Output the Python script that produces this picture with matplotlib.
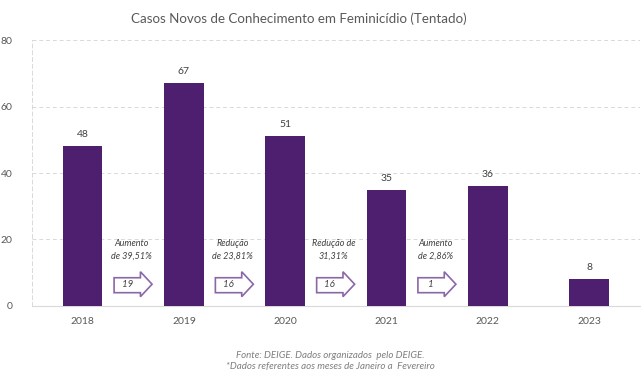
import matplotlib
matplotlib.use("Agg")
import matplotlib.pyplot as plt
from matplotlib.patches import Polygon

anos = ["2018", "2019", "2020", "2021", "2022", "2023"]
casos = [48, 67, 51, 35, 36, 8]
variacao_txt = ["Aumento\nde 39,51%", "Redução\nde 23,81%", "Redução de\n31,31%", "Aumento\nde 2,86%"]
variacao_num = ["19", "16", "16", "1"]

plt.rcParams['font.family'] = ['Lato', 'DejaVu Sans']

cor_barra = "#4d1f6e"
cor_seta = "#8a68a8"
cor_texto = "#404040"

fig = plt.figure(figsize=(6.41, 3.9), dpi=100)
ax = fig.add_axes([0.050, 0.2154, 0.948, 0.682])

x = list(range(len(anos)))
bars = ax.bar(x, casos, width=0.39, color=cor_barra, zorder=3)
for xi, v in zip(x, casos):
    ax.annotate(str(v), (xi, v), xytext=(0, 5), textcoords="offset points",
                ha="center", va="bottom", fontsize=7.5, color=cor_texto)

# setas entre barras
for i, (txt, num) in enumerate(zip(variacao_txt, variacao_num)):
    x0 = i + 0.31
    x1 = i + 0.57
    x2 = i + 0.685
    yb0, yb1 = 4.0, 8.5
    yh0, yh1 = 2.8, 10.3
    ym = (yh0 + yh1) / 2
    pts = [(x0, yb0), (x1, yb0), (x1, yh0), (x2, ym), (x1, yh1), (x1, yb1), (x0, yb1)]
    ax.add_patch(Polygon(pts, closed=True, facecolor="white", edgecolor=cor_seta,
                         linewidth=1.2, zorder=4))
    ax.text((x0 + x1) / 2, ym, num, ha="center", va="center", fontsize=7,
            style="italic", color=cor_texto, zorder=5)
    ax.text(i + 0.48, 16.8, txt, ha="center", va="center", fontsize=6.5,
            style="italic", color=cor_texto, linespacing=1.5, zorder=5)

ax.set_xlim(-0.5, 5.5)
ax.set_ylim(0, 80)
ax.set_yticks([0, 20, 40, 60, 80])
ax.set_xticks(x)
ax.set_xticklabels(anos)
ax.tick_params(axis="both", length=0, labelsize=7.5, colors="#595959")
ax.tick_params(axis="x", pad=8)
ax.tick_params(axis="y", pad=14)
ax.grid(axis="y", color="#d9d9d9", linestyle=(0, (4, 3)), linewidth=0.7, zorder=0)
for s in ["top", "right"]:
    ax.spines[s].set_visible(False)
ax.spines["left"].set_color("#d9d9d9")
ax.spines["left"].set_linestyle((0, (4, 3)))
ax.spines["left"].set_linewidth(0.7)
ax.spines["bottom"].set_color("#d9d9d9")

fig.text(0.466, 0.953, "Casos Novos de Conhecimento em Feminicídio (Tentado)",
         ha="center", va="center", fontsize=9.6, color="#595959")
fig.text(0.515, 0.089, "Fonte: DEIGE. Dados organizados  pelo DEIGE.",
         ha="center", va="center", fontsize=7, style="italic", color="#7f7f7f")
fig.text(0.515, 0.059, "*Dados referentes aos meses de Janeiro a  Fevereiro",
         ha="center", va="center", fontsize=7, style="italic", color="#7f7f7f")

fig.savefig("out.png", dpi=100)
